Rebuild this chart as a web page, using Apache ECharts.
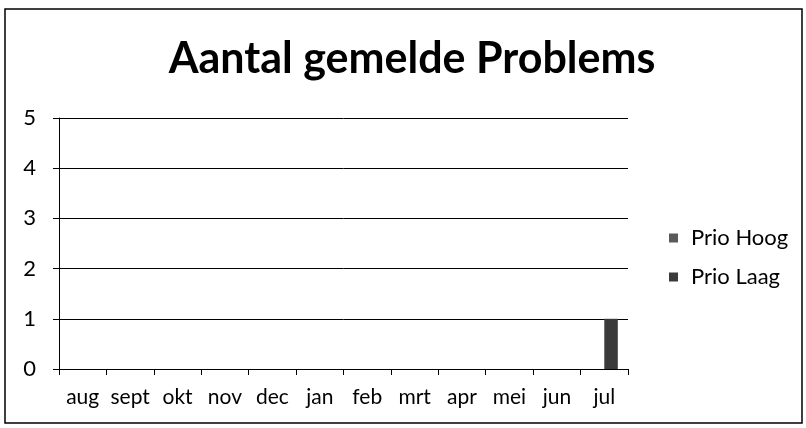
<!DOCTYPE html>
<html>
<head>
<meta charset="utf-8">
<script src="https://cdn.jsdelivr.net/npm/echarts@6/dist/echarts.min.js"></script>
<style>
    html, body { margin: 0; padding: 0; background: #fff; }
    #chart { width: 806px; height: 428px; }
</style>
</head>
<body>
<div id="chart"></div>
<script>
const months = ['aug', 'sept', 'okt', 'nov', 'dec', 'jan', 'feb', 'mrt', 'apr', 'mei', 'jun', 'jul']
const prioHoog = [0, 0, 0, 0, 0, 0, 0, 0, 0, 0, 0, 0]
const prioLaag = [0, 0, 0, 0, 0, 0, 0, 0, 0, 0, 0, 1]

const chart = echarts.init(document.getElementById('chart'))
const font = 'Lato, "Open Sans", sans-serif'

const option = {
    backgroundColor: '#fff',
    animation: false,
    title: {
        text: 'Aantal gemelde Problems',
        left: 407,
        textAlign: 'center',
        top: 33,
        textStyle: {
            fontFamily: font,
            fontWeight: 'bold',
            fontSize: 43,
            color: '#000'
        }
    },
    graphic: [
        {
            type: 'rect',
            shape: { x: 5, y: 9, width: 797, height: 414 },
            style: { fill: 'none', stroke: '#000', lineWidth: 1.5 }
        }
    ],
    legend: {
        orient: 'vertical',
        left: 664,
        top: 222,
        itemWidth: 9,
        itemHeight: 9,
        itemGap: 17,
        icon: 'rect',
        textStyle: { fontFamily: font, fontSize: 22, color: '#000', padding: [0, 0, 0, 8] },
        data: ['Prio Hoog', 'Prio Laag']
    },
    grid: {
        left: 59,
        right: 178,
        top: 118,
        bottom: 59
    },
    xAxis: {
        type: 'category',
        data: months,
        axisLine: { lineStyle: { color: '#000', width: 1 } },
        axisTick: { show: true, length: 6, inside: false, lineStyle: { color: '#000' } },
        axisLabel: {
            fontFamily: font,
            fontSize: 21,
            color: '#000',
            margin: 18,
            interval: 0
        }
    },
    yAxis: {
        type: 'value',
        min: 0,
        max: 5,
        interval: 1,
        axisLine: { show: true, lineStyle: { color: '#000', width: 1 } },
        axisTick: { show: true, length: 6, lineStyle: { color: '#000' } },
        axisLabel: {
            fontFamily: font,
            fontSize: 22,
            color: '#000',
            margin: 23
        },
        splitLine: { show: true, lineStyle: { color: '#000', width: 1 } }
    },
    series: [
        {
            name: 'Prio Hoog',
            type: 'bar',
            data: prioHoog,
            barGap: '0%',
            barCategoryGap: '43%',
            itemStyle: { color: '#5a5a5a' }
        },
        {
            name: 'Prio Laag',
            type: 'bar',
            data: prioLaag,
            itemStyle: { color: '#3a3a3a' }
        }
    ]
}

chart.setOption(option)
</script>
</body>
</html>
